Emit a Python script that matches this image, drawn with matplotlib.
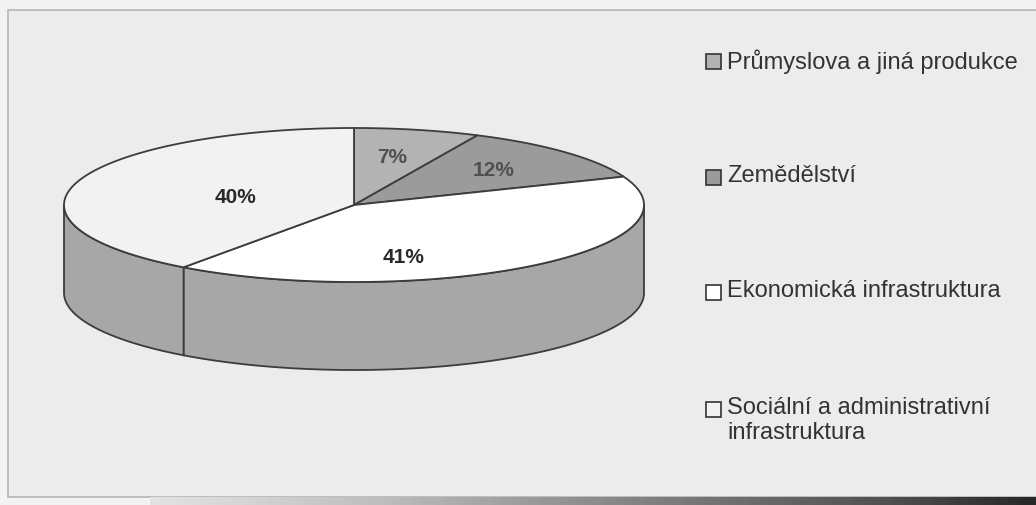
import numpy as np
import matplotlib
matplotlib.use("Agg")
import matplotlib.pyplot as plt
from matplotlib.patches import Polygon, Rectangle

# data
categories = ["Průmyslova a jiná produkce", "Zemědělství",
              "Ekonomická infrastruktura",
              "Sociální a administrativní\ninfrastruktura"]
shares = [7, 12, 41, 40]
pct_labels = ["7%", "12%", "41%", "40%"]

# styling / layout (pixel space)
top_colors = ["#b3b3b3", "#9b9b9b", "#ffffff", "#f2f2f2"]
side_color = "#a7a7a7"
edge = "#3c3c3c"
label_colors = ["#505050", "#505050", "#2a2a2a", "#2a2a2a"]
label_r = [(0.60, 0.65), (0.66, 0.68), (0.28, 0.85), (0.43, 0.34)]
cx, cy, a, b, depth = 354, 206, 290, 77, 88
legend_x, legend_y = 706, [62, 178, 293, 410]

plt.rcParams["font.family"] = ["Liberation Sans", "DejaVu Sans"]

fig = plt.figure(figsize=(10.36, 5.06), dpi=100, facecolor="#f3f3f3")
ax = fig.add_axes([0, 0, 1, 1])
ax.set_xlim(0, 1036)
ax.set_ylim(506, 0)
ax.axis("off")

# chart frame
ax.add_patch(Rectangle((8, 11), 1040, 487, facecolor="#ececec",
                       edgecolor="#b5b5b5", lw=1.2, zorder=0))
# dark scan band at the bottom
grad = np.linspace(0, 1, 300)[None, :]
ax.imshow(grad, cmap="Greys", vmin=-0.3, vmax=1.2, aspect="auto",
          extent=(150, 1036, 506, 498), zorder=1)


def pt(t, dy=0.0):
    t = np.radians(t)
    return np.column_stack([cx + a * np.cos(t), cy - b * np.sin(t) + dy])


total = float(sum(shares))
bounds = np.cumsum([0] + shares) / total
angles = [(90 - 360 * bounds[i], 90 - 360 * bounds[i + 1]) for i in range(len(shares))]

# side walls (front half only)
for t0, t1 in angles:
    ts = np.linspace(t1, t0, 400)
    vis = ts[np.sin(np.radians(ts)) <= 1e-9]
    if len(vis) < 2:
        continue
    poly = np.vstack([pt(vis), pt(vis[::-1], depth)])
    ax.add_patch(Polygon(poly, closed=True, facecolor=side_color,
                         edgecolor=edge, lw=1.3, zorder=2))

# top faces
for (t0, t1), col in zip(angles, top_colors):
    ts = np.linspace(t0, t1, 300)
    poly = np.vstack([[cx, cy], pt(ts)])
    ax.add_patch(Polygon(poly, closed=True, facecolor=col,
                         edgecolor=edge, lw=1.3, zorder=3))

# percentage labels
for (t0, t1), lab, (rx, ry), c in zip(angles, pct_labels, label_r, label_colors):
    tm = np.radians((t0 + t1) / 2)
    ax.text(cx + a * rx * np.cos(tm), cy - b * ry * np.sin(tm), lab,
            ha="center", va="center", fontsize=15, fontweight="bold",
            color=c, zorder=5)

# legend
for cat, col, y in zip(categories, top_colors, legend_y):
    ax.add_patch(Rectangle((legend_x, y - 7), 15, 15, facecolor=col,
                           edgecolor="#333333", lw=1.2, zorder=4))
    ax.text(legend_x + 21, y - 13, cat, ha="left", va="top", fontsize=17,
            color="#333333", linespacing=1.15, zorder=5)

fig.savefig("out.png", dpi=100, facecolor=fig.get_facecolor())
